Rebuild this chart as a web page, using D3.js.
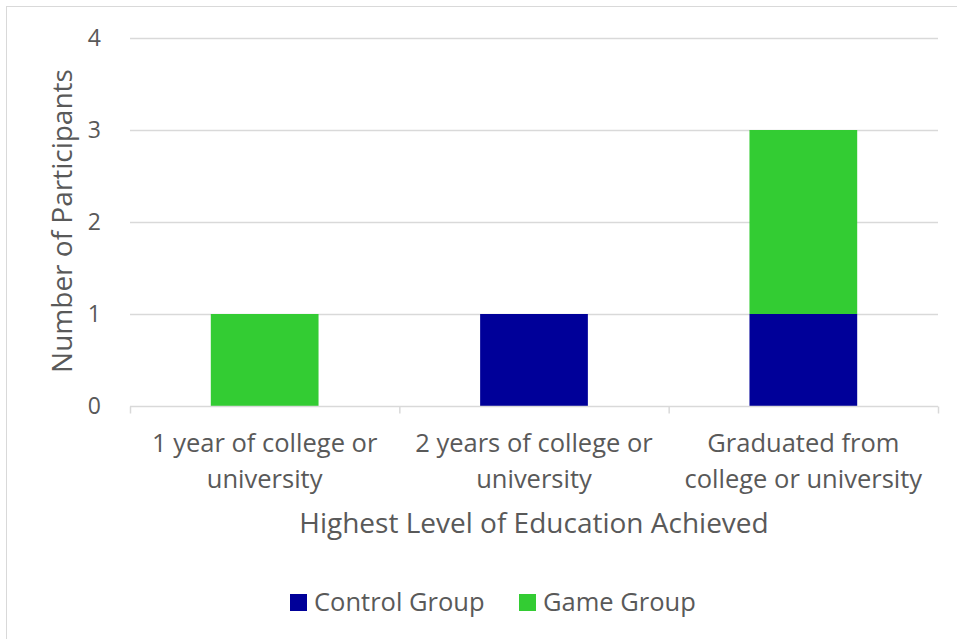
<!DOCTYPE html>
<html><head><meta charset="utf-8">
<script src="https://cdn.jsdelivr.net/npm/d3@7"></script>
<style>body{margin:0;background:#fff}svg{display:block}text{font-family:"Open Sans",sans-serif;fill:#595959}</style>
</head><body><svg id="c" width="957" height="639"></svg>
<script>
const categories = [["1 year of college or","university"],["2 years of college or","university"],["Graduated from","college or university"]];
const seriesNames = ["Control Group","Game Group"];
const control = [0,1,1];
const game = [1,0,2];
const yTicks = [0,1,2,3,4];
const colors = ["#000099","#33CC33"];

const svg = d3.select("#c");
svg.append("rect").attr("x",6.5).attr("y",6.5).attr("width",960).attr("height",640).attr("fill","#fff").attr("stroke","#d9d9d9");
const L=130,R=938,T=38,B=406;
const x = d3.scaleBand().domain(d3.range(3)).range([L,R]).paddingInner(0.6).paddingOuter(0.3);
const y = d3.scaleLinear().domain([0,4]).range([B,T]);
const g = svg.append("g");
g.selectAll("line.grid").data(yTicks.slice(1)).join("line").attr("x1",L).attr("x2",R).attr("y1",d=>y(d)+0.5).attr("y2",d=>y(d)+0.5).attr("stroke","#d9d9d9").attr("stroke-width",1.5);
const data = d3.range(3).map(i=>({i,Control:control[i],Game:game[i]}));
const stack = d3.stack().keys(["Control","Game"])(data);
stack.forEach((s,k)=>{
  g.selectAll(null).data(s).join("rect").attr("x",d=>x(d.data.i)).attr("width",x.bandwidth())
   .attr("y",d=>y(d[1])).attr("height",d=>y(d[0])-y(d[1])).attr("fill",colors[k]);
});
const xa = d3.axisBottom(d3.scaleLinear().domain([0,3]).range([L,R])).tickValues([0,1,2,3]).tickSize(7).tickFormat("");
const xg = svg.append("g").attr("transform",`translate(0,${B+0.5})`).call(xa);
xg.selectAll("path,line").attr("stroke","#d9d9d9").attr("stroke-width",1.5);
xg.select("path").attr("d",`M${L},0H${R}`);
const ya = d3.axisLeft(y).tickValues(yTicks).tickSize(0).tickPadding(29).tickFormat(d3.format("d"));
const yg = svg.append("g").attr("transform",`translate(${L},0)`).call(ya);
yg.select("path").remove();
yg.selectAll("text").style("font-size","23px").style("fill","#595959").style("font-family","Open Sans");
const cg = svg.append("g");
categories.forEach((c,i)=>{
  const cx = x(i)+x.bandwidth()/2;
  c.forEach((line,j)=>{
    cg.append("text").attr("x",cx).attr("y",452+j*36).attr("text-anchor","middle").style("font-size","25.5px").text(line);
  });
});
svg.append("text").attr("x",534).attr("y",533).attr("text-anchor","middle").style("font-size","28px").text("Highest Level of Education Achieved");
svg.append("text").attr("transform","translate(72,221) rotate(-90)").attr("text-anchor","middle").style("font-size","28px").text("Number of Participants");
const lx=[290,519];
seriesNames.forEach((n,k)=>{
  svg.append("rect").attr("x",lx[k]).attr("y",594).attr("width",17).attr("height",17).attr("fill",colors[k]);
  svg.append("text").attr("x",lx[k]+24).attr("y",611).style("font-size","25.5px").text(n);
});
</script></body></html>
